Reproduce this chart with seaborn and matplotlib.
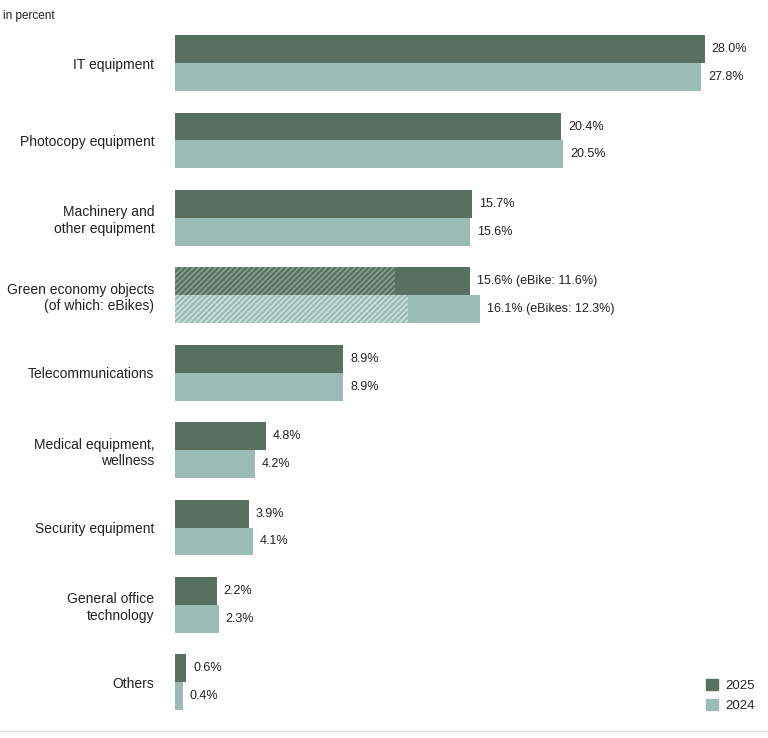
import pandas as pd
import numpy as np
import matplotlib.pyplot as plt
import seaborn as sns
from matplotlib.patches import Patch

# data
categories = ['IT equipment', 'Photocopy equipment', 'Machinery and\nother equipment',
              'Green economy objects\n(of which: eBikes)', 'Telecommunications',
              'Medical equipment,\nwellness', 'Security equipment',
              'General office\ntechnology', 'Others']
values_2025 = [28.0, 20.4, 15.7, 15.6, 8.9, 4.8, 3.9, 2.2, 0.6]
values_2024 = [27.8, 20.5, 15.6, 16.1, 8.9, 4.2, 4.1, 2.3, 0.4]
ebike_2025 = 11.6
ebike_2024 = 12.3
labels_2025 = ['28.0%', '20.4%', '15.7%', '15.6% (eBike: 11.6%)', '8.9%', '4.8%', '3.9%', '2.2%', '0.6%']
labels_2024 = ['27.8%', '20.5%', '15.6%', '16.1% (eBikes: 12.3%)', '8.9%', '4.2%', '4.1%', '2.3%', '0.4%']
years = ['2025', '2024']

dark = '#587062'
light = '#9bbcb5'

df = pd.DataFrame({
    'Category': categories * 2,
    'Value': values_2025 + values_2024,
    'Year': ['2025'] * len(categories) + ['2024'] * len(categories),
})

sns.set_style('white')
plt.rcParams['font.family'] = ['Liberation Sans', 'DejaVu Sans']
plt.rcParams['hatch.linewidth'] = 1.2

fig = plt.figure(figsize=(7.68, 7.38), dpi=100)
ax = fig.add_axes([0.228, 0.023, 0.739, 0.944])

sns.barplot(data=df, y='Category', x='Value', hue='Year', hue_order=years,
            order=categories, palette=[dark, light], width=0.72, orient='h',
            saturation=1, ax=ax, legend=False, linewidth=0)

# hatched eBike portion of the green economy bars
ebikes = [ebike_2025, ebike_2024]
hatch_cols = ['#8b9e93', '#cfe2dd']
fills = [dark, light]
for cont, eb, hc, fc in zip(ax.containers, ebikes, hatch_cols, fills):
    p = cont.patches[3]
    ax.barh(p.get_y() + p.get_height() / 2, eb, height=p.get_height(),
            color=fc, edgecolor=hc, hatch='//////', linewidth=0)

ax.bar_label(ax.containers[0], labels=labels_2025, padding=5, fontsize=9, color='#222222')
ax.bar_label(ax.containers[1], labels=labels_2024, padding=5, fontsize=9, color='#222222')

ax.set_xlim(0, 30)
ax.set_ylim(8.5, -0.5)
ax.set_xlabel('')
ax.set_ylabel('')
ax.set_xticks([])
ax.tick_params(axis='y', length=0, pad=15, labelsize=10, labelcolor='#222222')
for lbl in ax.get_yticklabels():
    lbl.set_horizontalalignment('right')
sns.despine(ax=ax, left=True, bottom=True)

handles = [Patch(color=dark, label='2025'), Patch(color=light, label='2024')]
ax.legend(handles=handles, loc='lower right', bbox_to_anchor=(1.043, -0.004), frameon=False,
          fontsize=9.5, handlelength=0.9, handleheight=0.9, handletextpad=0.6, labelspacing=0.5)

fig.text(0.004, 0.978, 'in percent', fontsize=8.5, color='#222222', ha='left', va='center')
fig.add_artist(plt.Line2D([0, 1], [0.009, 0.009], color='#dddddd', linewidth=1))

fig.savefig('out.png', dpi=100)
